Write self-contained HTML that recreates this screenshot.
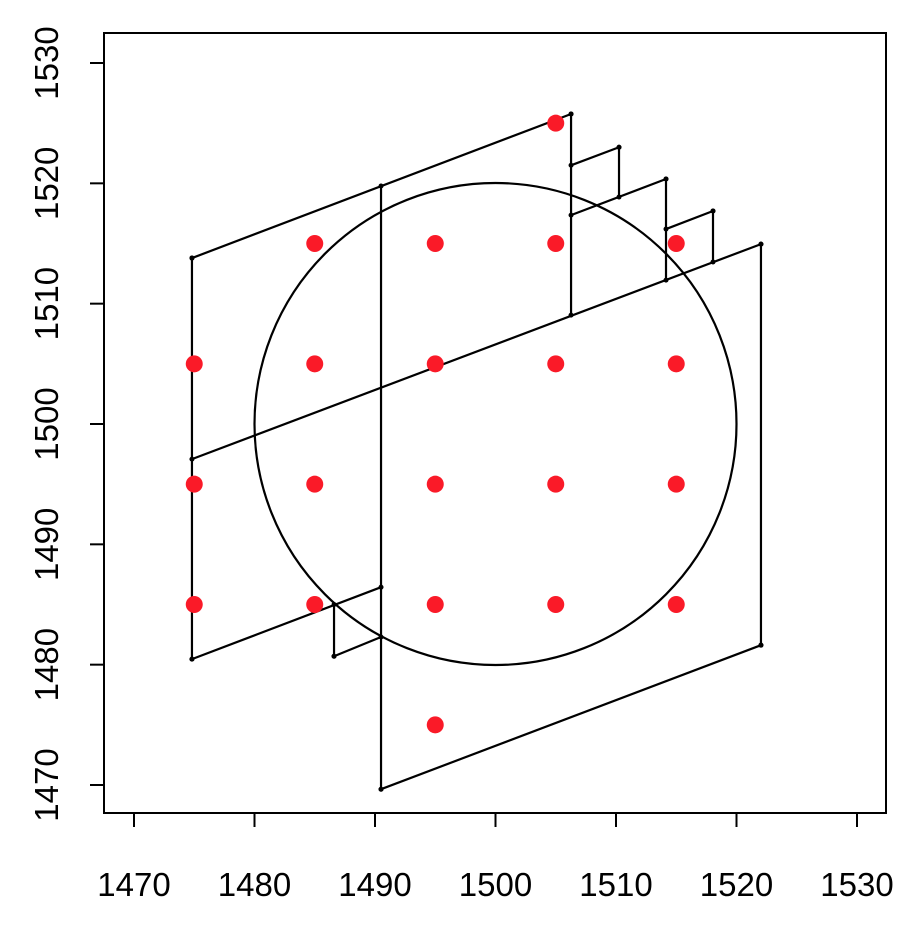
<!DOCTYPE html>
<html><head><meta charset="utf-8"><style>
body{margin:0;background:#fff}
svg text{font-family:"Liberation Sans",sans-serif;font-size:33px;fill:#000}
</style></head><body>
<svg id="c" width="920" height="926" xmlns="http://www.w3.org/2000/svg"></svg>
<script>
const xTicks=[1470,1480,1490,1500,1510,1520,1530];
const yTicks=[1470,1480,1490,1500,1510,1520,1530];
const ptX=[1505,1485,1495,1505,1515,1475,1485,1495,1505,1515,1475,1485,1495,1505,1515,1475,1485,1495,1505,1515,1495];
const ptY=[1525,1515,1515,1515,1515,1505,1505,1505,1505,1505,1495,1495,1495,1495,1495,1485,1485,1485,1485,1485,1475];
// segments: [x1,y1,x2,y2]
const segs=[
[1474.81,1513.79,1506.27,1525.76],
[1474.81,1513.79,1474.81,1480.46],
[1474.81,1497.08,1522.03,1514.95],
[1490.5,1519.78,1490.5,1469.65],
[1506.27,1525.76,1506.27,1509.05],
[1474.81,1480.46,1490.5,1486.44],
[1490.5,1469.65,1522.03,1481.62],
[1522.03,1514.95,1522.03,1481.62],
[1486.6,1485.0,1486.6,1480.7],
[1486.6,1480.7,1490.5,1482.3],
[1506.27,1521.5,1510.25,1523.0],
[1510.25,1523.0,1510.25,1518.86],
[1506.27,1517.36,1514.15,1520.36],
[1514.15,1520.36,1514.15,1511.96],
[1514.15,1516.2,1518.05,1517.7],
[1518.05,1517.7,1518.05,1513.46]
];
const circle={cx:1500,cy:1500,r:20};
const sx=v=>134+(v-1470)*(723/60);
const sy=v=>785-(v-1470)*(722/60);
const svg=document.getElementById('c');
const NS='http://www.w3.org/2000/svg';
function mk(t,a,p){const e=document.createElementNS(NS,t);for(const k in a)e.setAttribute(k,a[k]);(p||svg).appendChild(e);return e;}
const box=mk('rect',{x:104,y:33,width:782,height:780,fill:'none',stroke:'#000','stroke-width':2});


xTicks.forEach(v=>{
 const l=mk('line',{x1:sx(v),x2:sx(v),y1:813,y2:827,stroke:'#000','stroke-width':2});
 
 
 const t=mk('text',{x:sx(v),y:896,'text-anchor':'middle'});t.textContent=v;
 
 
});
const xa=mk('line',{x1:sx(1470),x2:sx(1530),y1:813,y2:813,stroke:'#000','stroke-width':2});


yTicks.forEach(v=>{
 const l=mk('line',{x1:90,x2:104,y1:sy(v),y2:sy(v),stroke:'#000','stroke-width':2});
 
 
 const t=mk('text',{x:0,y:0,'text-anchor':'middle',transform:`translate(58,${sy(v)}) rotate(-90)`});t.textContent=v;
 
 
});
const c=mk('circle',{cx:sx(circle.cx),cy:sy(circle.cy),r:sx(circle.cx+circle.r)-sx(circle.cx),fill:'none',stroke:'#000','stroke-width':2.2});


segs.forEach(s=>{
 const l=mk('line',{x1:sx(s[0]),y1:sy(s[1]),x2:sx(s[2]),y2:sy(s[3]),stroke:'#000','stroke-width':2.2});
 
 
 [[s[0],s[1]],[s[2],s[3]]].forEach(p=>{
  const d=mk('circle',{cx:sx(p[0]),cy:sy(p[1]),r:2.5,fill:'#000'});
  
  
 });
});
ptX.forEach((x,i)=>{
 const d=mk('circle',{cx:sx(x),cy:sy(ptY[i]),r:8.5,fill:'#fa1a28'});
 
 
});
</script>
</body></html>
